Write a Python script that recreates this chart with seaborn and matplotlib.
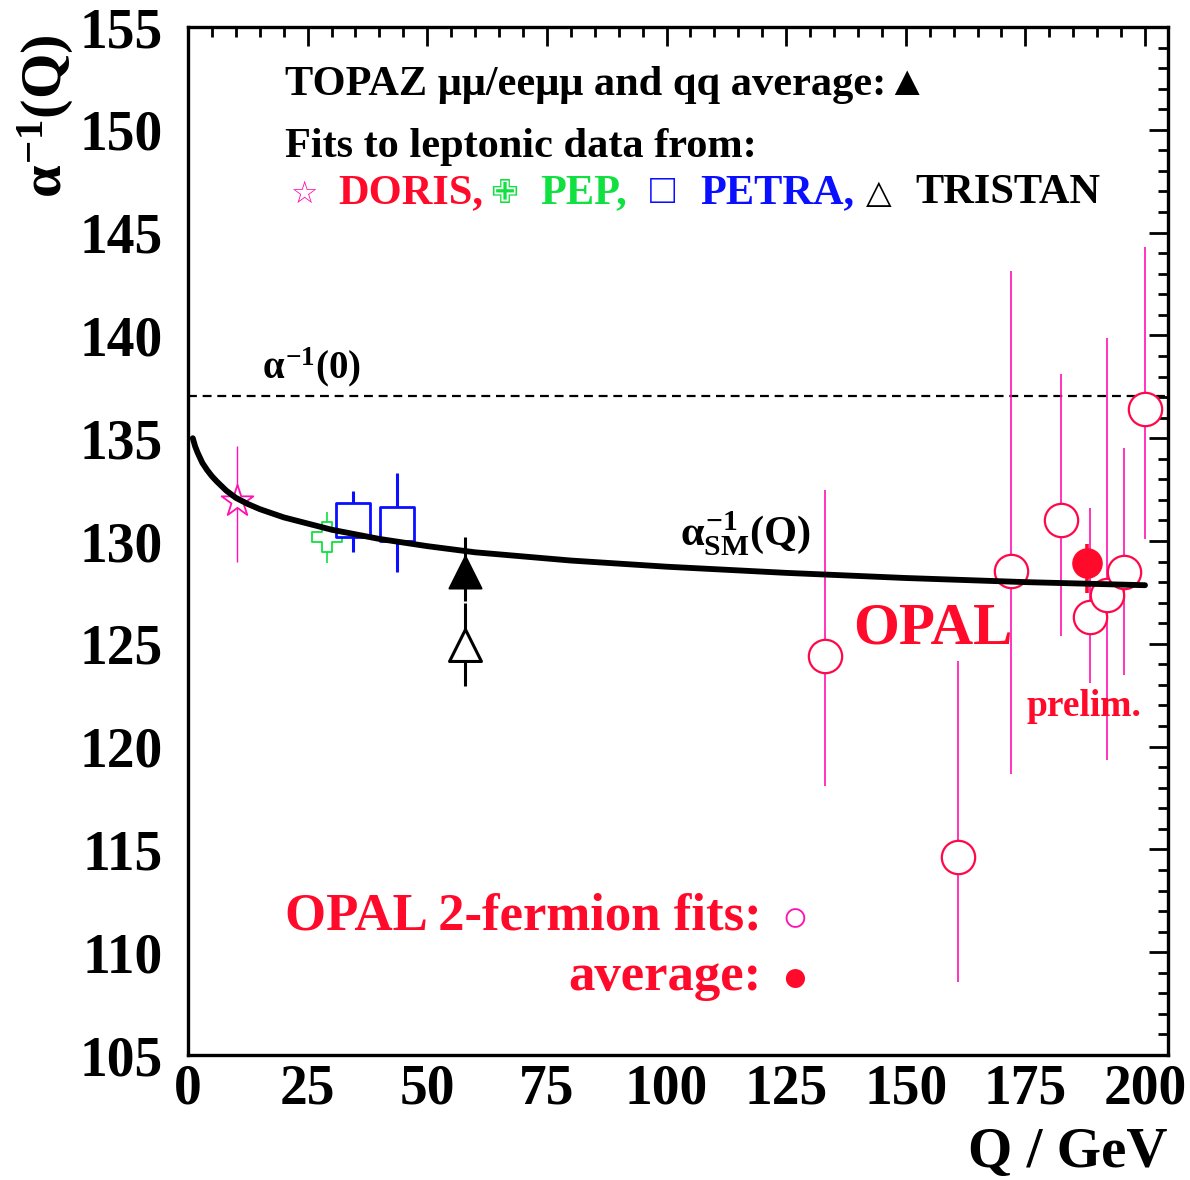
import numpy as np
import pandas as pd
import matplotlib
matplotlib.use('Agg')
import matplotlib.pyplot as plt
from matplotlib.ticker import MultipleLocator
import seaborn as sns

# ---------------- data ----------------
sm_q = [1, 1.5, 2, 3, 4, 5, 6, 8, 10, 12.5, 15, 20, 25, 30, 40, 50, 60, 70,
        80, 100, 125, 150, 175, 200]
sm_alpha = [135.0, 134.6, 134.3, 133.8, 133.45, 133.15, 132.9, 132.45, 132.1,
            131.8, 131.55, 131.15, 130.85, 130.55, 130.1, 129.75, 129.45,
            129.25, 129.05, 128.75, 128.45, 128.2, 128.0, 127.85]
alpha0 = 137.036

doris_q = [10.3]
doris_y = [131.95]
doris_lo = [2.95]
doris_hi = [2.65]

pep_q = [29.0]
pep_y = [130.2]
pep_lo = [1.25]
pep_hi = [1.2]

petra_q = [34.5, 43.6]
petra_y = [131.0, 130.85]
petra_lo = [1.55, 2.35]
petra_hi = [1.45, 2.45]

tristan_q = [57.9]
tristan_y = [124.95]
tristan_lo = [2.0]
tristan_hi = [2.05]

topaz_q = [57.9]
topaz_y = [128.5]
topaz_lo = [1.4]
topaz_hi = [1.7]

opal_q = [133.1, 160.9, 172.0, 182.4, 188.5, 192.0, 195.6, 200.0]
opal_y = [124.4, 114.65, 128.55, 131.0, 126.3, 127.35, 128.5, 136.4]
opal_lo = [6.3, 6.1, 9.9, 5.6, 3.2, 8.0, 5.0, 6.3]
opal_hi = [8.1, 9.5, 14.6, 7.1, 5.3, 12.5, 6.0, 7.9]

avg_q = [187.9]
avg_y = [128.95]
avg_lo = [1.5]
avg_hi = [0.9]

x_ticks = [0, 25, 50, 75, 100, 125, 150, 175, 200]
y_ticks = [105, 110, 115, 120, 125, 130, 135, 140, 145, 150, 155]

# ---------------- style ----------------
sns.set_style('white')
plt.rcParams['font.family'] = ['Liberation Serif', 'DejaVu Sans']
plt.rcParams['font.weight'] = 'bold'
plt.rcParams['text.color'] = 'black'
plt.rcParams['xtick.color'] = 'black'
plt.rcParams['ytick.color'] = 'black'
plt.rcParams['xtick.labelcolor'] = 'black'
plt.rcParams['ytick.labelcolor'] = 'black'
plt.rcParams['axes.labelcolor'] = 'black'
plt.rcParams['mathtext.fontset'] = 'custom'
plt.rcParams['mathtext.rm'] = 'Liberation Serif:bold'
plt.rcParams['mathtext.it'] = 'Liberation Serif:bold'
plt.rcParams['mathtext.bf'] = 'Liberation Serif:bold'

RED = '#ff0a2a'
CIRC = '#ff0848'
MAG = '#ff10b0'
GREEN = '#10e040'
BLUE = '#0a10ff'

fig = plt.figure(figsize=(11.9, 11.8), dpi=100)
ax = fig.add_axes([188 / 1190, 1 - 1055 / 1180, 980 / 1190, 1028 / 1180])

# dashed alpha(0) line
ax.axhline(alpha0, color='black', lw=1.6, ls=(0, (4, 2.6)), zorder=2)

# error bars
def ebar(q, y, lo, hi, color, lw):
    ax.errorbar(q, y, yerr=[lo, hi], fmt='none', ecolor=color, elinewidth=lw,
                capsize=0, zorder=3)

ebar(doris_q, doris_y, doris_lo, doris_hi, MAG, 1.0)
ebar(pep_q, pep_y, pep_lo, pep_hi, GREEN, 1.2)
ebar(petra_q, petra_y, petra_lo, petra_hi, BLUE, 2.2)
ebar(tristan_q, tristan_y, tristan_lo, tristan_hi, 'black', 2.2)
ebar(topaz_q, topaz_y, topaz_lo, topaz_hi, 'black', 2.2)
ebar(opal_q, opal_y, opal_lo, opal_hi, MAG, 1.2)
ebar(avg_q, avg_y, avg_lo, avg_hi, RED, 2.6)

# markers
sns.scatterplot(x=doris_q, y=doris_y, marker='*', s=24 ** 2, color='white',
                edgecolor=MAG, linewidth=1.3, ax=ax, zorder=4)
sns.scatterplot(x=pep_q, y=pep_y, marker='P', s=22 ** 2, color='white',
                edgecolor=GREEN, linewidth=1.3, ax=ax, zorder=4)
sns.scatterplot(x=petra_q, y=petra_y, marker='s', s=24 ** 2, color='white',
                edgecolor=BLUE, linewidth=2.0, ax=ax, zorder=4)
sns.scatterplot(x=tristan_q, y=tristan_y, marker='^', s=23 ** 2, color='white',
                edgecolor='black', linewidth=2.2, ax=ax, zorder=4)
sns.scatterplot(x=topaz_q, y=topaz_y, marker='^', s=23 ** 2, color='black',
                edgecolor='black', linewidth=1.5, ax=ax, zorder=4)
sns.scatterplot(x=opal_q, y=opal_y, marker='o', s=24 ** 2, color='white',
                edgecolor=CIRC, linewidth=1.6, ax=ax, zorder=4)
sns.scatterplot(x=avg_q, y=avg_y, marker='o', s=21 ** 2, color=RED,
                edgecolor=RED, linewidth=1.0, ax=ax, zorder=5)

# SM running curve (on top)
sns.lineplot(x=sm_q, y=sm_alpha, color='black', lw=4.2, ax=ax, zorder=6,
             sort=True)

# axes
ax.set_xlim(0, 204.8)
ax.set_ylim(105, 155)
ax.set_xticks(x_ticks)
ax.set_yticks(y_ticks)
ax.xaxis.set_minor_locator(MultipleLocator(5))
ax.yaxis.set_minor_locator(MultipleLocator(1))
ax.tick_params(which='both', direction='in', top=True, right=True,
               color='black', labelcolor='black', width=2.0)
ax.tick_params(which='major', length=14)
ax.tick_params(which='minor', length=7)
ax.tick_params(axis='x', which='major', labelsize=40, pad=6)
ax.tick_params(axis='y', which='major', labelsize=40, pad=18)
for lab in ax.get_xticklabels() + ax.get_yticklabels():
    lab.set_fontweight('bold')
    lab.set_color('black')
for sp in ax.spines.values():
    sp.set_linewidth(2.4)
    sp.set_color('black')
ax.set_xlabel('')
ax.set_ylabel('')

# axis titles
fig.text(46 / 1190, 1 - 34 / 1180, r'$\alpha^{-1}$(Q)', rotation=90,
         ha='center', va='top', fontsize=42, fontweight='bold', color='black')
fig.text(1167 / 1190, 1 - 1153 / 1180, 'Q / GeV', ha='right', va='center',
         fontsize=41, fontweight='bold', color='black')

# header texts
def atext(xp, yp, s, color='black', size=30.5, ha='left', **kw):
    ax.text((xp - 188) / 980, (1055 - yp) / 1028, s, transform=ax.transAxes,
            color=color, fontsize=size, fontweight='bold', ha=ha,
            va='baseline', **kw)

atext(285, 95, 'TOPAZ μμ/eeμμ and qq average:▲')
atext(285, 157, 'Fits to leptonic data from:')
atext(290, 203, '☆', color=MAG, size=22)
atext(338, 203, 'DORIS,', color=RED)
atext(490, 203, '✙', color=GREEN, size=24)
atext(540, 203, 'PEP,', color=GREEN)
atext(650, 203, '□', color=BLUE, size=30)
atext(700, 203, 'PETRA,', color=BLUE)
atext(866, 203, '△', color='black', size=24)
atext(915, 203, 'TRISTAN', color='black')

# in-plot labels
ax.text(15.5, 137.9, r'$\alpha^{-1}$(0)', fontsize=28, fontweight='bold',
        color='black', va='baseline')
ax.text(102.8, 129.8, r'$\alpha^{-1}_{SM}$(Q)', fontsize=30.5, fontweight='bold',
        color='black', va='baseline')
ax.text(139.0, 125.0, 'OPAL', fontsize=42.5, fontweight='bold', color=RED,
        va='baseline')
ax.text(175.3, 121.5, 'prelim.', fontsize=27, fontweight='bold', color=RED,
        va='baseline')

atext(762, 930, 'OPAL 2-fermion fits:', color=RED, size=38, ha='right')
atext(795, 931, '○', color=MAG, size=32, ha='center')
atext(762, 990, 'average:', color=RED, size=38, ha='right')
atext(795, 991, '●', color=RED, size=32, ha='center')

fig.savefig('out.png', dpi=100)
